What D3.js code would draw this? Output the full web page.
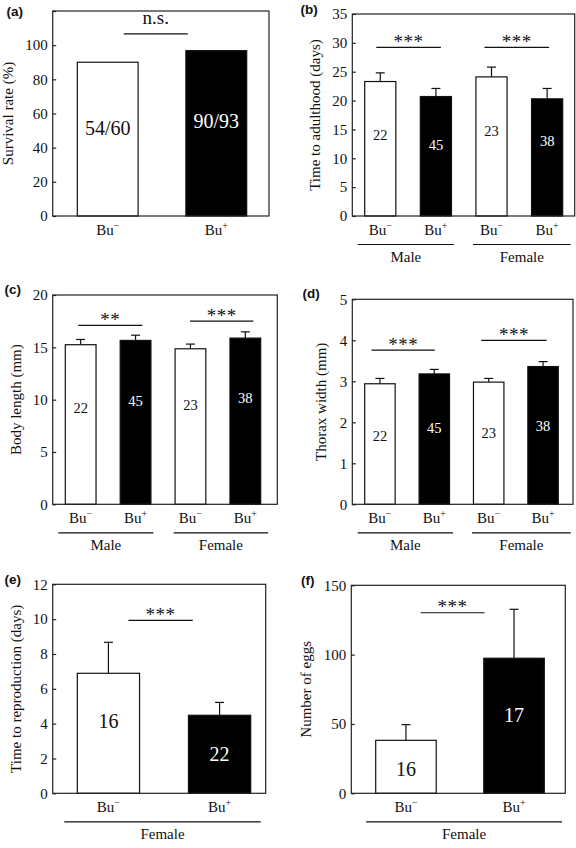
<!DOCTYPE html>
<html><head><meta charset="utf-8">
<script src="https://cdn.jsdelivr.net/npm/d3@7/dist/d3.min.js"></script>
<style>
html,body{margin:0;padding:0;background:#fff;}
svg{display:block;}
text{font-family:"Liberation Serif","Times New Roman",serif;fill:#111;}
.plab{font-family:"Liberation Sans",Arial,sans-serif;font-weight:bold;}
</style></head>
<body>
<svg id="chart" width="576" height="848"></svg>
<script>
// ---------- DATA ----------
const treatments2 = ["Bu−", "Bu+"];
const treatments4 = ["M Bu−", "M Bu+", "F Bu−", "F Bu+"];
const sexGroups = ["Male", "Female"];

const survivalRate = [90.0, 96.8];
const survivalLabels = ["54/60", "90/93"];

const adultTimeMean = [23.3, 20.7, 24.1, 20.3];
const adultTimeErr  = [1.5, 1.4, 1.7, 1.8];
const adultN        = [22, 45, 23, 38];

const bodyLenMean = [15.25, 15.66, 14.86, 15.88];
const bodyLenErr  = [0.5, 0.5, 0.45, 0.6];
const bodyN       = [22, 45, 23, 38];

const thoraxMean = [2.94, 3.18, 2.98, 3.36];
const thoraxErr  = [0.13, 0.11, 0.09, 0.12];
const thoraxN    = [22, 45, 23, 38];

const reproTimeMean = [6.89, 4.48];
const reproTimeErr  = [1.78, 0.74];
const reproN        = [16, 22];

const eggsMean = [38.2, 97.4];
const eggsErr  = [11.3, 35.3];
const eggsN    = [16, 17];

const ticksA = [0, 20, 40, 60, 80, 100, 120];
const ticksB = [0, 5, 10, 15, 20, 25, 30, 35];
const ticksC = [0, 5, 10, 15, 20];
const ticksD = [0, 1, 2, 3, 4, 5];
const ticksE = [0, 2, 4, 6, 8, 10, 12];
const ticksF = [0, 50, 100, 150];

const svg = d3.select("#chart");
const FS = 15;

function panel(cfg) {
  const g = svg.append("g");
  const y = d3.scaleLinear().domain(cfg.domain).range([cfg.frame[3], cfg.frame[1]]);
  const x = d3.scaleBand().domain(cfg.cats).range(cfg.barRange).paddingInner(0.44).paddingOuter(0);
  const bw = x.bandwidth();
  const cx = c => x(c) + bw / 2;
  const [fx0, fy0, fx1, fy1] = cfg.frame;

  // bars
  cfg.cats.forEach((c, i) => {
    const dark = i % 2 === 1;
    g.append("rect")
      .attr("x", x(c)).attr("width", bw)
      .attr("y", y(cfg.values[i])).attr("height", y(0) - y(cfg.values[i]))
      .attr("fill", dark ? "#000" : "#fff")
      .attr("stroke", "#111").attr("stroke-width", 1.2);
    if (cfg.err) {
      const top = y(cfg.values[i] + cfg.err[i]);
      g.append("line").attr("x1", cx(c)).attr("x2", cx(c))
        .attr("y1", y(cfg.values[i])).attr("y2", top)
        .attr("stroke", "#111").attr("stroke-width", 1.2);
      g.append("line").attr("x1", cx(c) - 4.5).attr("x2", cx(c) + 4.5)
        .attr("y1", top).attr("y2", top)
        .attr("stroke", "#111").attr("stroke-width", 1.2);
    }
    g.append("text")
      .attr("x", cx(c)).attr("y", y(cfg.labelAt[i]))
      .attr("dy", "0.34em")
      .attr("text-anchor", "middle")
      .style("font-size", cfg.labelSize + "px")
      .style("fill", dark ? "#fff" : "#111")
      .text(cfg.labels[i]);
  });

  // frame
  g.append("rect").attr("x", fx0).attr("y", fy0)
    .attr("width", fx1 - fx0).attr("height", fy1 - fy0)
    .attr("fill", "none").attr("stroke", "#222").attr("stroke-width", 1.2);

  // y axis (inward ticks)
  const ax = g.append("g").attr("transform", `translate(${fx0},0)`)
    .call(d3.axisLeft(y).tickValues(cfg.ticks).tickSizeInner(-3.5).tickSizeOuter(0).tickPadding(5));
  ax.select(".domain").remove();
  ax.selectAll(".tick line").attr("stroke", "#222").attr("stroke-width", 1.2);
  ax.selectAll(".tick text")
    .style("font-family", '"Liberation Serif","Times New Roman",serif')
    .style("font-size", FS + "px").attr("fill", "#111")
    .text(d => cfg.hideTicks && cfg.hideTicks.includes(d) ? "" : d);

  // y title
  g.append("text")
    .attr("transform", `translate(${cfg.titleX},${(fy0 + fy1) / 2}) rotate(-90)`)
    .attr("text-anchor", "middle")
    .style("font-size", FS + "px")
    .text(cfg.title);

  // category labels
  cfg.cats.forEach((c, i) => {
    const t = g.append("text").attr("x", cx(c)).attr("y", fy1 + 18.5)
      .attr("text-anchor", "middle").style("font-size", FS + "px");
    t.append("tspan").text("Bu");
    t.append("tspan").attr("dy", -5.5).style("font-size", "10px").text(i % 2 === 0 ? "−" : "+");
  });

  // group lines + labels
  cfg.groups.forEach(gr => {
    const xa = x(cfg.cats[gr.from]) + gr.ext[0];
    const xb = x(cfg.cats[gr.to]) + bw + gr.ext[1];
    g.append("line").attr("x1", xa).attr("x2", xb)
      .attr("y1", fy1 + 28.5).attr("y2", fy1 + 28.5)
      .attr("stroke", "#111").attr("stroke-width", 1.2);
    g.append("text").attr("x", (xa + xb) / 2).attr("y", fy1 + 46)
      .attr("text-anchor", "middle").style("font-size", FS + "px").text(gr.name);
  });

  // significance
  cfg.sig.forEach(s => {
    const xa = cx(cfg.cats[s.a]) + s.dx[0];
    const xb = cx(cfg.cats[s.b]) + s.dx[1];
    const ly = y(s.at);
    g.append("line").attr("x1", xa).attr("x2", xb).attr("y1", ly).attr("y2", ly)
      .attr("stroke", "#111").attr("stroke-width", 1.2);
    g.append("text").attr("x", (xa + xb) / 2).attr("y", ly + (s.text === "n.s." ? -9.5 : 0.5))
      .attr("text-anchor", "middle").style("font-size", "19px")
      .style("letter-spacing", s.text === "n.s." ? "0px" : "0.5px")
      .text(s.text);
  });

  // panel letter
  svg.append("text").attr("class", "plab")
    .attr("x", cfg.letterPos[0]).attr("y", cfg.letterPos[1])
    .style("font-size", "13.5px").text(cfg.letter);
}

// (a)
panel({
  letter: "(a)", letterPos: [6.5, 15.5],
  frame: [52.7, 11, 269, 216], domain: [0, 120], ticks: ticksA, hideTicks: [120],
  cats: treatments2, barRange: [77.3, 246.7],
  values: survivalRate, err: null,
  labels: survivalLabels, labelAt: [51.6, 55.3], labelSize: 20,
  title: "Survival rate (%)", titleX: 13,
  groups: [],
  sig: [{a: 0, b: 1, dx: [16, -28.5], at: 106.6, text: "n.s."}]
});

// (b)
panel({
  letter: "(b)", letterPos: [300.5, 14],
  frame: [352.3, 14, 574.7, 216], domain: [0, 35], ticks: ticksB,
  cats: treatments4, barRange: [364.7, 562.7],
  values: adultTimeMean, err: adultTimeErr,
  labels: adultN, labelAt: [14.0, 12.3, 14.8, 13.0], labelSize: 14.5,
  title: "Time to adulthood (days)", titleX: 319.5,
  groups: [{name: sexGroups[0], from: 0, to: 1, ext: [-7, 2.5]},
           {name: sexGroups[1], from: 2, to: 3, ext: [-3, 8]}],
  sig: [{a: 0, b: 1, dx: [-4, 5], at: 29.2, text: "***"},
        {a: 2, b: 3, dx: [-7, 2], at: 29.2, text: "***"}]
});

// (c)
panel({
  letter: "(c)", letterPos: [4.5, 294],
  frame: [52.7, 295, 277.3, 504.3], domain: [0, 20], ticks: ticksC,
  cats: treatments4, barRange: [65.3, 260.7],
  values: bodyLenMean, err: bodyLenErr,
  labels: bodyN, labelAt: [9.17, 9.87, 9.48, 10.12], labelSize: 14.5,
  title: "Body length (mm)", titleX: 21,
  groups: [{name: sexGroups[0], from: 0, to: 1, ext: [-7, 2.5]},
           {name: sexGroups[1], from: 2, to: 3, ext: [-1.5, 7.5]}],
  sig: [{a: 0, b: 1, dx: [-2.4, 6.8], at: 17.1, text: "**"},
        {a: 2, b: 3, dx: [-0.5, 8], at: 17.5, text: "***"}]
});

// (d)
panel({
  letter: "(d)", letterPos: [302.5, 298],
  frame: [352.3, 299.3, 573, 504.3], domain: [0, 5], ticks: ticksD,
  cats: treatments4, barRange: [364.7, 558.3],
  values: thoraxMean, err: thoraxErr,
  labels: thoraxN, labelAt: [1.67, 1.85, 1.73, 1.91], labelSize: 14.5,
  title: "Thorax width (mm)", titleX: 325.5,
  groups: [{name: sexGroups[0], from: 0, to: 1, ext: [-7, 3.5]},
           {name: sexGroups[1], from: 2, to: 3, ext: [-1.5, 12.5]}],
  sig: [{a: 0, b: 1, dx: [-8.4, 0.5], at: 3.76, text: "***"},
        {a: 2, b: 3, dx: [-7.5, 3.5], at: 4.0, text: "***"}]
});

// (e)
panel({
  letter: "(e)", letterPos: [4.5, 584],
  frame: [52.7, 584.3, 265.7, 793.3], domain: [0, 12], ticks: ticksE,
  cats: treatments2, barRange: [77.3, 250.7],
  values: reproTimeMean, err: reproTimeErr,
  labels: reproN, labelAt: [4.15, 2.24], labelSize: 20,
  title: "Time to reproduction (days)", titleX: 20.5,
  groups: [{name: sexGroups[1], from: 0, to: 1, ext: [-13, 10]}],
  sig: [{a: 0, b: 1, dx: [20, -26.8], at: 9.93, text: "***"}]
});

// (f)
panel({
  letter: "(f)", letterPos: [301, 585],
  frame: [351.3, 585.3, 565.3, 793.3], domain: [0, 150], ticks: ticksF,
  cats: treatments2, barRange: [375.7, 544.3],
  values: eggsMean, err: eggsErr,
  labels: eggsN, labelAt: [17.3, 56], labelSize: 20,
  title: "Number of eggs", titleX: 311,
  groups: [{name: sexGroups[1], from: 0, to: 1, ext: [-9.5, 17.7]}],
  sig: [{a: 0, b: 1, dx: [14.7, -29.5], at: 130.2, text: "***"}]
});
</script>
</body></html>
